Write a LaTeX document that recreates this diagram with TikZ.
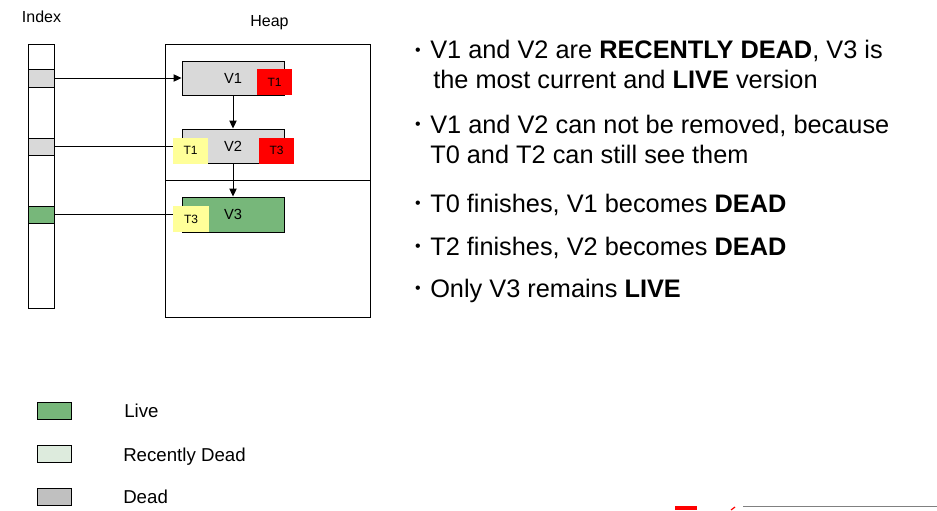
\documentclass[tikz,border=0pt]{standalone}
\usepackage{fontspec}
\setmainfont{Liberation Sans}
\usepackage{xcolor}
\usetikzlibrary{positioning, arrows.meta}

\definecolor{livegreen}{RGB}{119,183,122}
\definecolor{recentgreen}{RGB}{221,235,221}
\definecolor{deadgray}{RGB}{192,192,192}
\definecolor{boxgray}{RGB}{217,217,217}
\definecolor{tagred}{RGB}{255,0,0}
\definecolor{tagyellow}{RGB}{255,255,153}

\begin{document}
\begin{tikzpicture}[x=0.75pt, y=-0.75pt,
    cell/.style={draw, line width=0.7pt, inner sep=0pt},
    version/.style={cell, minimum width=76.5pt, minimum height=25.5pt, font=\fontsize{11}{11}\selectfont},
    tag/.style={inner sep=0pt, minimum width=26.25pt, minimum height=19.5pt, font=\fontsize{9}{9}\selectfont},
    legendbox/.style={cell, minimum width=25.5pt, minimum height=12.75pt},
    caption/.style={anchor=base, inner sep=0pt, font=\fontsize{12}{12}\selectfont},
    legendtext/.style={anchor=base west, inner sep=0pt, font=\fontsize{14}{14}\selectfont},
    bullettext/.style={anchor=base west, inner sep=0pt, font=\fontsize{19}{22}\selectfont},
    dot/.style={inner sep=0pt, font=\fontsize{12}{12}\selectfont},
    link/.style={line width=0.7pt},
    pointer/.style={link, -{Triangle[length=6pt, width=5.5pt]}}]
    \useasboundingbox (0,0) rectangle (937,510);

    % index column and its entries
    \node[caption] (indexlabel) at (41.5,22.7) {Index};
    \node[cell, minimum width=19.5pt, minimum height=198pt] (index) at (41,176) {};
    \node[cell, fill=boxgray, minimum width=19.5pt, minimum height=13.5pt] (idx1) at (41,78) {};
    \node[cell, fill=boxgray, minimum width=19.5pt, minimum height=12.75pt] (idx2) at (41,146.5) {};
    \node[cell, fill=livegreen, minimum width=19.5pt, minimum height=12.75pt] (idx3) at (41,214.5) {};

    % heap
    \node[caption] (heaplabel) at (269.5,26.7) {Heap};
    \node[cell, minimum width=153.75pt, minimum height=204.75pt] (heap) at (267.5,180.5) {};
    \coordinate (split) at (165,180);
    \draw[link] (split) -- (split -| heap.east);

    % tuple versions
    \node[version, fill=boxgray] (v1) at (233,78) {V1};
    \node[version, fill=boxgray] (v2) at (233,146) {V2};
    \node[version, fill=livegreen, minimum height=26.25pt] (v3) at (233,214.5) {V3};
    \node[tag, fill=tagred] (v1max) at (274.5,82) {T1};
    \node[tag, fill=tagyellow] (v2min) at (190.5,150.5) {T1};
    \node[tag, fill=tagred] (v2max) at (276.5,150.5) {T3};
    \node[tag, fill=tagyellow, minimum width=27pt] (v3min) at (191,219) {T3};

    \draw[pointer] (idx1.east) -- (v1.west);
    \draw[link] (idx2.east) -- (idx2.east -| v2min.west);
    \draw[link] (idx3.east) -- (idx3.east -| v3min.west);
    \draw[pointer] (v1.south) -- (v2.north);
    \draw[pointer] (v2.south) -- (v3.north);

    % bullet points
    \node[dot] (b1) at (418,52) {\textbullet};
    \node[bullettext] (t1a) at (430,59) {V1 and V2 are \textbf{RECENTLY DEAD}, V3 is};
    \node[bullettext] (t1b) at (433,89) {the most current and \textbf{LIVE} version};
    \node[dot] (b2) at (418,126) {\textbullet};
    \node[bullettext] (t2a) at (430,133) {V1 and V2 can not be removed, because};
    \node[bullettext] (t2b) at (430,163) {T0 and T2 can still see them};
    \node[dot] (b3) at (418,205) {\textbullet};
    \node[bullettext] (t3) at (430,212) {T0 finishes, V1 becomes \textbf{DEAD}};
    \node[dot] (b4) at (418,248) {\textbullet};
    \node[bullettext] (t4) at (430,255) {T2 finishes, V2 becomes \textbf{DEAD}};
    \node[dot] (b5) at (418,290) {\textbullet};
    \node[bullettext] (t5) at (430,297) {Only V3 remains \textbf{LIVE}};

    % legend
    \node[legendbox, fill=livegreen] (live) at (54,410.5) {};
    \node[legendbox, fill=recentgreen] (recent) at (54,454) {};
    \node[legendbox, fill=deadgray] (dead) at (54,496.5) {};
    \node[legendtext] (livetext) at (124,417.3) {Live};
    \node[legendtext] (recenttext) at (123,461.7) {Recently Dead};
    \node[legendtext] (deadtext) at (123,503.3) {Dead};

    % cut-off footer
    \fill[tagred] (675,506) rectangle (697,510);
    \draw[tagred, line width=0.9pt] (731,510) -- (735,507);
    \draw[gray, line width=0.75pt] (743,506) -- (937,506);
\end{tikzpicture}
\end{document}
